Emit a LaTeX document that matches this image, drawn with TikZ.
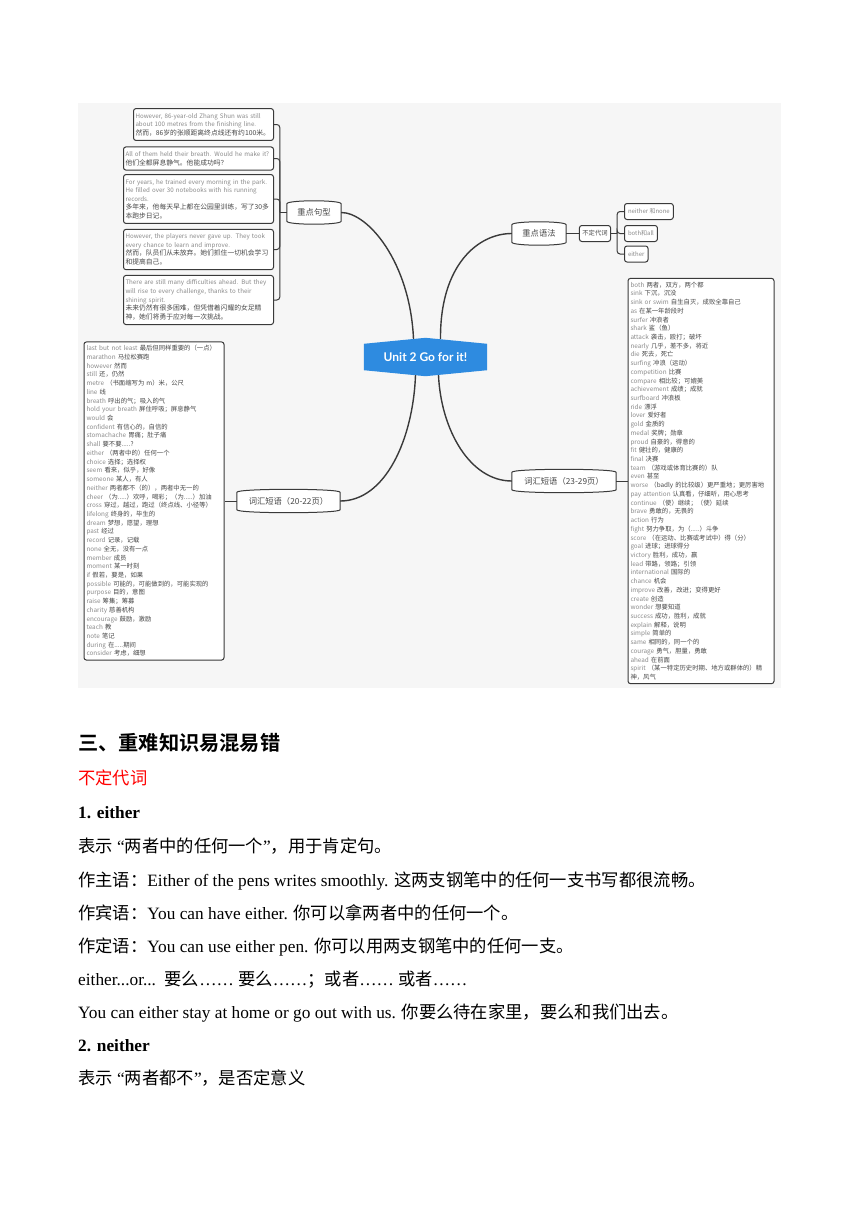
\documentclass[tikz,border=0pt]{standalone}
\usepackage{fontspec}
\setmainfont{Liberation Serif}
\newfontfamily\cjk{Noto Sans CJK SC}[BoldFont={Noto Sans CJK SC Bold}]
\newfontfamily\lato{Lato}
\usetikzlibrary{positioning}

\definecolor{mapbg}{HTML}{F6F6F6}
\definecolor{unitblue}{HTML}{2E8BE0}
\definecolor{engray}{HTML}{8A8A8A}
\definecolor{cndark}{HTML}{484848}
\definecolor{edge}{HTML}{3A3A3A}
\definecolor{topred}{HTML}{FF0000}

\pgfdeclarelayer{back}
\pgfdeclarelayer{shapes}
\pgfsetlayers{back,shapes,main}

\newcommand\en[1]{\textcolor{engray}{#1}}
\newcommand\vw[2]{\textcolor{engray}{#1} #2}
\newcommand\zh[1]{{\fontsize{6.8}{8.6}\selectfont #1}}
\newcommand\hz[1]{{\cjk #1}}

\begin{document}
\begin{tikzpicture}[x=1pt,y=-1pt,
  box/.style={draw=edge,line width=1pt,fill=white,rounded corners=2.5pt,inner xsep=2pt,inner ysep=4.5pt,align=left,font=\cjk\fontsize{6.2}{8.6}\selectfont,text=cndark},
  vocab/.style={box,font=\cjk\fontsize{6.35}{8.72}\selectfont,inner xsep=2.5pt,inner ysep=3.4pt},
  leaf/.style={box,font=\cjk\fontsize{6}{7}\selectfont,text=engray,minimum height=16pt,inner xsep=3.5pt,inner ysep=2pt},
  topic/.style={font=\cjk\fontsize{8.3}{10}\selectfont,text=cndark,minimum height=17pt,inner sep=0pt},
  branch/.style={draw=edge,line width=1.4pt},
  bracket/.style={draw=edge,line width=1pt,rounded corners=3pt},
  body/.style={anchor=base west,inner sep=0pt,font=\fontsize{17.3}{20}\selectfont}]
\useasboundingbox (0,0) rectangle (860,1216);
\begin{pgfonlayer}{back}
  \fill[white] (0,0) rectangle (860,1216);
  \fill[mapbg] (78,103) rectangle (781,688);
\end{pgfonlayer}

% centre and main branches
\node[minimum width=123pt,minimum height=26pt,inner sep=0pt,text=white,font=\lato\bfseries\fontsize{12}{14}\selectfont] (c) at (425.5,357) {Unit 2 Go for it!};
\node[topic,minimum width=54pt] (jx) at (314,212.5) {重点句型};
\node[topic,minimum width=54pt] (yf) at (539,233.5) {重点语法};
\node[topic,minimum width=103pt] (chA) at (288.5,501) {词汇短语（20-22页）};
\node[topic,minimum width=104pt] (chB) at (564,481) {词汇短语（23-29页）};

\begin{pgfonlayer}{shapes}
  \fill[unitblue] (c.south west) -- (c.north west) -- ([yshift=6pt]c.north) -- (c.north east)
    -- (c.south east) -- ([yshift=-6pt]c.south) -- cycle;
  \foreach \n in {jx,yf,chA,chB}
    \draw[draw=edge,line width=1pt,fill=white,line join=round]
      (\n.south west) -- (\n.north west)
      .. controls ([yshift=4pt]\n.north west) and ([yshift=4pt]\n.north east) .. (\n.north east)
      -- (\n.south east)
      .. controls ([yshift=-4pt]\n.south east) and ([yshift=-4pt]\n.south west) .. (\n.south west) -- cycle;
\end{pgfonlayer}

% key sentences
\node[box,text width=136pt,anchor=east] (s1) at (274,124.5)
  {\en{However, 86-year-old Zhang Shun was still}\\
   \en{about 100 metres from the finishing line.}\\
   \zh{然而，86岁的张顺距离终点线还有约100米。}};
\node[box,text width=146pt,anchor=east] (s2) at (274,158.5)
  {\en{All of them held their breath. Would he make it?}\\
   \zh{他们全都屏息静气。他能成功吗？}};
\node[box,text width=146pt,anchor=east] (s3) at (274,199)
  {\en{For years, he trained every morning in the park.}\\
   \en{He filled over 30 notebooks with his running}\\
   \en{records.}\\
   \zh{多年来，他每天早上都在公园里训练，写了30多}\\
   \zh{本跑步日记。}};
\node[box,text width=146pt,anchor=east] (s4) at (274,249.5)
  {\en{However, the players never gave up. They took}\\
   \en{every chance to learn and improve.}\\
   \zh{然而，队员们从未放弃。她们抓住一切机会学习}\\
   \zh{和提高自己。}};
\node[box,text width=146pt,anchor=east] (s5) at (274,300)
  {\en{There are still many difficulties ahead. But they}\\
   \en{will rise to every challenge, thanks to their}\\
   \en{shining spirit.}\\
   \zh{未来仍然有很多困难，但凭借着闪耀的女足精}\\
   \zh{神，她们将勇于应对每一次挑战。}};

% grammar
\node[box,font=\cjk\fontsize{6.3}{7}\selectfont,minimum height=16pt,inner xsep=3pt,inner ysep=2pt] (bd) at (595,233.5) {不定代词};
\node[leaf,anchor=west] (l1) at (624,211.5) {neither 和none};
\node[leaf,anchor=west] (l2) at (624,233.5) {both和all};
\node[leaf,anchor=west] (l3) at (624,254) {either};

% vocabulary 20-22
\node[vocab,text width=135pt] (vl) at (154,501)
  {\vw{last but not least}{最后但同样重要的（一点）}\\
   \vw{marathon}{马拉松赛跑}\\
   \vw{however}{然而}\\
   \vw{still}{还，仍然}\\
   \vw{metre}{（书面缩写为 m）米，公尺}\\
   \vw{line}{线}\\
   \vw{breath}{呼出的气；吸入的气}\\
   \vw{hold your breath}{屏住呼吸；屏息静气}\\
   \vw{would}{会}\\
   \vw{confident}{有信心的，自信的}\\
   \vw{stomachache}{胃痛；肚子痛}\\
   \vw{shall}{要不要.....?}\\
   \vw{either}{（两者中的）任何一个}\\
   \vw{choice}{选择；选择权}\\
   \vw{seem}{看来，似乎，好像}\\
   \vw{someone}{某人，有人}\\
   \vw{neither}{两者都不（的），两者中无一的}\\
   \vw{cheer}{（为.....）欢呼，喝彩；（为.....）加油}\\
   \vw{cross}{穿过，越过，跑过（终点线、小径等）}\\
   \vw{lifelong}{终身的，毕生的}\\
   \vw{dream}{梦想，愿望，理想}\\
   \vw{past}{经过}\\
   \vw{record}{记录，记载}\\
   \vw{none}{全无，没有一点}\\
   \vw{member}{成员}\\
   \vw{moment}{某一时刻}\\
   \vw{if}{假若，要是，如果}\\
   \vw{possible}{可能的，可能做到的，可能实现的}\\
   \vw{purpose}{目的，意图}\\
   \vw{raise}{筹集；筹募}\\
   \vw{charity}{慈善机构}\\
   \vw{encourage}{鼓励，激励}\\
   \vw{teach}{教}\\
   \vw{note}{笔记}\\
   \vw{during}{在.....期间}\\
   \vw{consider}{考虑，细想}};

% vocabulary 23-29
\node[vocab,text width=141pt] (vr) at (701,481)
  {\vw{both}{两者，双方，两个都}\\
   \vw{sink}{下沉，沉没}\\
   \vw{sink or swim}{自生自灭，成败全靠自己}\\
   \vw{as}{在某一年龄段时}\\
   \vw{surfer}{冲浪者}\\
   \vw{shark}{鲨（鱼）}\\
   \vw{attack}{袭击，殴打；破坏}\\
   \vw{nearly}{几乎，差不多，将近}\\
   \vw{die}{死去，死亡}\\
   \vw{surfing}{冲浪（运动）}\\
   \vw{competition}{比赛}\\
   \vw{compare}{相比较；可媲美}\\
   \vw{achievement}{成绩；成就}\\
   \vw{surfboard}{冲浪板}\\
   \vw{ride}{漂浮}\\
   \vw{lover}{爱好者}\\
   \vw{gold}{金质的}\\
   \vw{medal}{奖牌；勋章}\\
   \vw{proud}{自豪的，得意的}\\
   \vw{fit}{健壮的，健康的}\\
   \vw{final}{决赛}\\
   \vw{team}{（游戏或体育比赛的）队}\\
   \vw{even}{甚至}\\
   \vw{worse}{（badly 的比较级）更严重地；更厉害地}\\
   \vw{pay attention}{认真看，仔细听，用心思考}\\
   \vw{continue}{（使）继续；（使）延续}\\
   \vw{brave}{勇敢的，无畏的}\\
   \vw{action}{行为}\\
   \vw{fight}{努力争取，为（.....）斗争}\\
   \vw{score}{（在运动、比赛或考试中）得（分）}\\
   \vw{goal}{进球；进球得分}\\
   \vw{victory}{胜利，成功，赢}\\
   \vw{lead}{带路，领路；引领}\\
   \vw{international}{国际的}\\
   \vw{chance}{机会}\\
   \vw{improve}{改善，改进；变得更好}\\
   \vw{create}{创造}\\
   \vw{wonder}{想要知道}\\
   \vw{success}{成功，胜利，成就}\\
   \vw{explain}{解释，说明}\\
   \vw{simple}{简单的}\\
   \vw{same}{相同的，同一个的}\\
   \vw{courage}{勇气，胆量，勇敢}\\
   \vw{ahead}{在前面}\\
   \vw{spirit}{（某一特定历史时期、地方或群体的）精}\\
   神，风气};

% connectors
\draw[branch] (jx.east) .. controls (368,212.5) and (410,262) .. ([xshift=-12pt,yshift=5pt]c.north);
\draw[branch] (yf.west) .. controls (478,233.5) and (440,265) .. ([xshift=15pt,yshift=5pt]c.north);
\draw[branch] (chA.east) .. controls (385,501) and (413,440) .. ([xshift=-10pt,yshift=-5pt]c.south);
\draw[branch] (chB.west) .. controls (470,481) and (441,430) .. ([xshift=13pt,yshift=-5pt]c.south);

\coordinate (sj) at ([xshift=-7pt]jx.west);
\draw[bracket] (jx.west) -- (sj);
\foreach \s in {s1,s2,s3,s4,s5}
  \draw[bracket] (\s.east) -| (sj);

\draw[bracket] (yf.east) -- (bd.west);
\coordinate (gj) at ([xshift=6pt]bd.east);
\draw[bracket] (bd.east) -- (gj);
\foreach \l in {l1,l2,l3}
  \draw[bracket] (\l.west) -| (gj);

\draw[bracket] (chA.west) -- (vl.east);
\draw[bracket] (chB.east) -- (vr.west);

% text below the map
\node[body,font=\cjk\bfseries\fontsize{20.2}{24}\selectfont] (h3) at (78,750.5) {三、重难知识易混易错};
\node[body,font=\cjk\fontsize{17.3}{20}\selectfont,text=topred] (bdt) at (78,784) {不定代词};
\node[body,font=\bfseries\fontsize{17.3}{20}\selectfont] (p1) at (78,818) {1. either};
\node[body] (p2) at (78,852) {\hz{表示} “\hz{两者中的任何一个}”\hz{，用于肯定句。}};
\node[body] (p3) at (78,886) {\hz{作主语：}Either of the pens writes smoothly. \hz{这两支钢笔中的任何一支书写都很流畅。}};
\node[body] (p4) at (78,919) {\hz{作宾语：}You can have either. \hz{你可以拿两者中的任何一个。}};
\node[body] (p5) at (78,952) {\hz{作定语：}You can use either pen. \hz{你可以用两支钢笔中的任何一支。}};
\node[body] (p6) at (78,985) {either...or...\ \ \hz{要么}…… \hz{要么}……\hz{；或者}…… \hz{或者}……};
\node[body] (p7) at (78,1018) {You can either stay at home or go out with us. \hz{你要么待在家里，要么和我们出去。}};
\node[body,font=\bfseries\fontsize{17.3}{20}\selectfont] (p8) at (78,1051) {2. neither};
\node[body] (p9) at (78,1084) {\hz{表示} “\hz{两者都不}”\hz{，是否定意义}};
\end{tikzpicture}
\end{document}
